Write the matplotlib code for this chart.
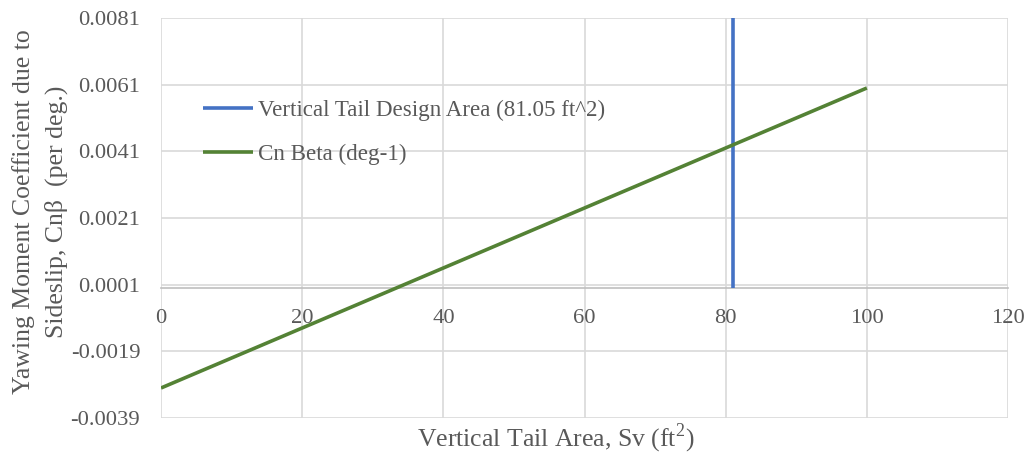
import matplotlib
matplotlib.use("Agg")
import matplotlib.pyplot as plt

plt.rcParams['font.family'] = ['Liberation Serif', 'DejaVu Serif']
plt.rcParams['axes.unicode_minus'] = False
plt.rcParams['mathtext.fontset'] = 'custom'
plt.rcParams['mathtext.rm'] = 'Liberation Serif'

# Yawing moment derivative vs. vertical tail area
tail_area = [0, 100]
cn_beta = [-0.0030, 0.0060]

# Design point marker line
design_area = [81.05, 81.05]
design_line_y = [0.0, 0.0081]

x_ticks = [0, 20, 40, 60, 80, 100, 120]
y_ticks = [-0.0039, -0.0019, 0.0001, 0.0021, 0.0041, 0.0061, 0.0081]

text_color = '#595959'
grid_color = '#D9D9D9'
fs_tick = 16.2
fs_leg = 16.6
fs_title = 18.5

fig = plt.figure(figsize=(10.29, 4.54), dpi=100)
ax = fig.add_axes([161/1029, 36/454, (1008-161)/1029, 400/454])

ax.plot(design_area, design_line_y, color='#4472C4', lw=2.6,
        label='Vertical Tail Design Area (81.05 ft^2)', zorder=4, solid_capstyle='butt')
ax.plot(tail_area, cn_beta, color='#548235', lw=2.6,
        label='Cn Beta (deg-1)', zorder=4, solid_capstyle='butt')

ax.set_xlim(0, 120)
ax.set_ylim(-0.0039, 0.0081)
ax.set_xticks(x_ticks)
ax.set_yticks(y_ticks)
ax.set_yticklabels([f'{v:.4f}' for v in y_ticks])
ax.grid(True, color=grid_color, lw=1.2, zorder=0)
ax.set_axisbelow(True)

for side in ['top', 'right', 'left']:
    ax.spines[side].set_visible(False)
ax.spines['bottom'].set_position(('data', 0))
ax.spines['bottom'].set_color('#BFBFBF')
ax.spines['bottom'].set_linewidth(1.2)

ax.tick_params(axis='both', length=0, labelsize=fs_tick, labelcolor=text_color)
ax.tick_params(axis='x', pad=15)
ax.tick_params(axis='y', pad=15)

fig.text(40/1029, (454-212)/454,
         'Yawing Moment Coefficient due to\nSideslip, Cnβ  (per deg.)',
         rotation=90, ha='center', va='center', multialignment='center',
         fontsize=fs_title, color=text_color, linespacing=1.55)
fig.text(556/1029, (454-446)/454, 'Vertical Tail Area, Sv (ft$^{2}$)',
         ha='center', va='baseline', fontsize=fs_title, color=text_color)

leg = ax.legend(loc='upper left', bbox_to_anchor=(0.05, 0.795), frameon=False,
                fontsize=fs_leg, handlelength=2.17, handletextpad=0.22, labelspacing=0.98,
                borderaxespad=0, borderpad=0)
for t in leg.get_texts():
    t.set_color(text_color)

fig.savefig('out.png', dpi=100)
